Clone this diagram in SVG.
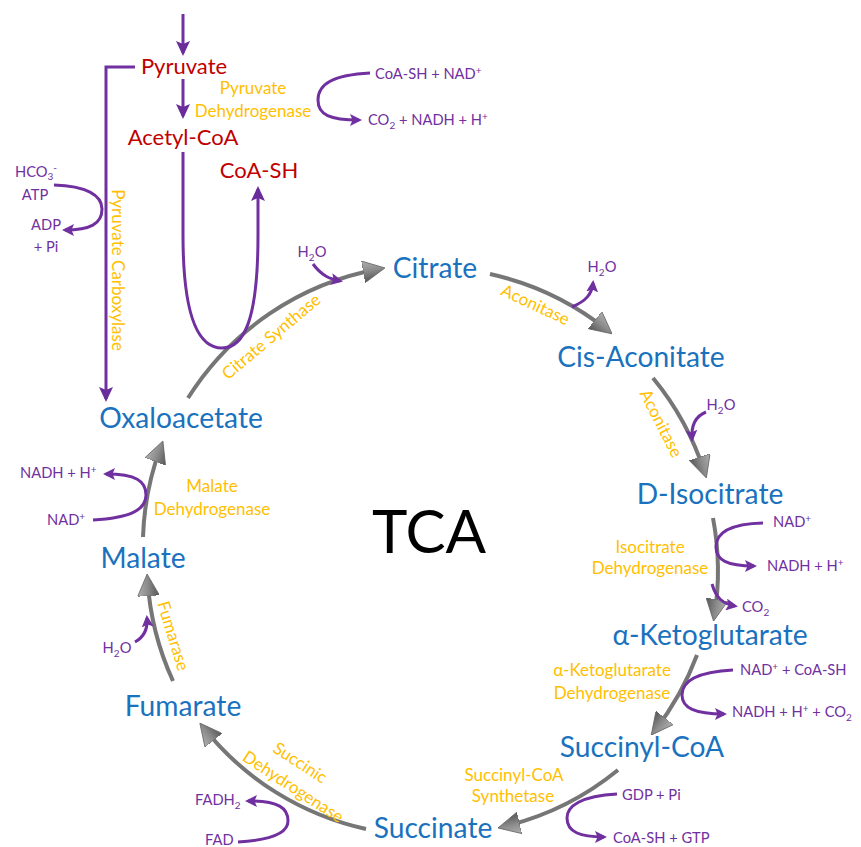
<svg xmlns="http://www.w3.org/2000/svg" width="861" height="847" viewBox="0 0 861 847">
<defs>
<style>
text{font-family:Lato,"Liberation Sans",sans-serif}
.blue{fill:#1a72be;font-size:28.2px;text-anchor:middle}
.red{fill:#c00000;font-size:22px;text-anchor:middle}
.enz{fill:#ffc000;font-size:17px;text-anchor:middle}
.pur{fill:#7030a0;font-size:14.7px}
.mid{text-anchor:middle}
.ss{font-size:10px}
.tca{fill:#000;font-size:60px;text-anchor:middle}
.cyc{fill:none;stroke:#767676;stroke-width:4;marker-end:url(#gh)}
.pa{fill:none;stroke:#7030a0;stroke-width:3;marker-end:url(#ph)}
.pb{fill:none;stroke:#7030a0;stroke-width:3;marker-end:url(#pb)}
</style>
<linearGradient id="gg" x1="0" y1="0" x2="0" y2="1">
<stop offset="0" stop-color="#b0b0b0"/><stop offset="0.5" stop-color="#8a8a8a"/><stop offset="1" stop-color="#555"/>
</linearGradient>
<marker id="gh" viewBox="0 0 22 22" refX="16" refY="11" markerWidth="22" markerHeight="22" markerUnits="userSpaceOnUse" orient="auto">
<path d="M0,0 L22,11 L0,22 z" fill="url(#gg)" stroke="#666" stroke-width="0.8"/>
</marker>
<marker id="ph" viewBox="0 0 12 12" refX="9" refY="6" markerWidth="12" markerHeight="12" markerUnits="userSpaceOnUse" orient="auto">
<path d="M0,0 L12,6 L0,12 L2.5,6 z" fill="#7030a0"/>
</marker>
<marker id="pb" viewBox="0 0 15 14" refX="12" refY="7" markerWidth="15" markerHeight="14" markerUnits="userSpaceOnUse" orient="auto">
<path d="M0,0 L15,7 L0,14 L3,7 z" fill="#6a2c9a"/>
</marker>
</defs>
<rect width="861" height="847" fill="#fff"/>

<g id="connectors">
<!-- TCA cycle -->
<path class="cyc" d="M188,398 A286,286 0 0 1 379,269"/>
<path class="cyc" d="M490,274 A286,286 0 0 1 607.4,330.1"/>
<path class="cyc" d="M653,378 A286,286 0 0 1 704.5,472.2"/>
<path class="cyc" d="M713,518 A286,286 0 0 1 714.5,615.2"/>
<path class="cyc" d="M697,655 A286,286 0 0 1 654.9,730.4"/>
<path class="cyc" d="M618,770 A286,286 0 0 1 503.8,826.6"/>
<path class="cyc" d="M366,829 A286,286 0 0 1 203.6,727.8"/>
<path class="cyc" d="M173,681 A286,286 0 0 1 147.5,580"/>
<path class="cyc" d="M143,537 A286,286 0 0 1 160.8,446.6"/>
<!-- pyruvate entry -->
<path class="pb" d="M183,14 L183,53"/>
<path class="pb" d="M183,79 L183,116"/>
<path class="pb" d="M183,152 L183,235 C183,320 200,348 222,348 C244,348 258,320 258,235 L258,189"/>
<path class="pb" d="M135,67 L106,67 L106,399"/>
<!-- side reactions -->
<path class="pa" d="M54,185 C86,186 102,195 102,209 C102,224 90,230 65,230"/>
<path class="pa" d="M370,73 C333,75 318,84 318,100 C318,115 330,120 359,120"/>
<path class="pa" d="M313,264 C322,276 330,279 340,281"/>
<path class="pa" d="M572,307 C586,301 592,294 593,283"/>
<path class="pa" d="M706,412 C696,416 691,425 692,439"/>
<path class="pa" d="M763,523 C726,524 716,535 716,547 C716,560 727,566 754,566"/>
<path class="pa" d="M712,584 C716,598 723,604 735,606"/>
<path class="pa" d="M733,670 C696,672 682,682 682,695 C682,708 695,714 724,714"/>
<path class="pa" d="M617,794 C581,796 567,806 567,818 C567,832 580,837 604,837"/>
<path class="pa" d="M238,842 C272,840 288,833 288,821 C288,808 279,801 248,801"/>
<path class="pa" d="M93,520 C130,518 146,510 146,495 C146,481 136,474 106,474"/>
<path class="pa" d="M135,642 C144,637 148,630 147,618"/>
</g>

<g id="node-pyruvate"><text class="red" x="184" y="74">Pyruvate</text></g>
<g id="node-acetylcoa"><text class="red" x="183" y="145">Acetyl-CoA</text></g>
<g id="node-coash"><text class="red" x="259" y="178">CoA-SH</text></g>
<g id="node-citrate"><text class="blue" x="435" y="278">Citrate</text></g>
<g id="node-cisaconitate"><text class="blue" x="641" y="367">Cis-Aconitate</text></g>
<g id="node-isocitrate"><text class="blue" x="710" y="504">D-Isocitrate</text></g>
<g id="node-akg"><text class="blue" x="710" y="645">α-Ketoglutarate</text></g>
<g id="node-succinylcoa"><text class="blue" x="642" y="757">Succinyl-CoA</text></g>
<g id="node-succinate"><text class="blue" x="433" y="838">Succinate</text></g>
<g id="node-fumarate"><text class="blue" x="183" y="716">Fumarate</text></g>
<g id="node-malate"><text class="blue" x="143" y="568">Malate</text></g>
<g id="node-oxaloacetate"><text class="blue" x="181" y="428">Oxaloacetate</text></g>
<g id="node-tca"><text class="tca" x="429" y="553">TCA</text></g>

<g id="enzymes">
<text class="enz" x="253" y="94">Pyruvate</text>
<text class="enz" x="253" y="117">Dehydrogenase</text>
<text class="enz" transform="translate(112,270) rotate(90)">Pyruvate Carboxylase</text>
<text class="enz" transform="translate(275,341) rotate(-40)">Citrate Synthase</text>
<text class="enz" transform="translate(533,310) rotate(25)">Aconitase</text>
<text class="enz" transform="translate(656,426) rotate(63)">Aconitase</text>
<text class="enz" x="650" y="553">Isocitrate</text>
<text class="enz" x="650" y="574">Dehydrogenase</text>
<text class="enz" x="612" y="676">α-Ketoglutarate</text>
<text class="enz" x="612" y="699">Dehydrogenase</text>
<text class="enz" x="514" y="781">Succinyl-CoA</text>
<text class="enz" x="513" y="802">Synthetase</text>
<text class="enz" transform="translate(297,767.6) rotate(33)">Succinic</text>
<text class="enz" transform="translate(290,791.6) rotate(33)">Dehydrogenase</text>
<text class="enz" transform="translate(167.7,637.6) rotate(73)">Fumarase</text>
<text class="enz" x="212" y="492">Malate</text>
<text class="enz" x="212" y="515">Dehydrogenase</text>
</g>

<g id="cofactors">
<text class="pur" x="375" y="79">CoA-SH + NAD<tspan class="ss" dy="-5">+</tspan></text>
<text class="pur" x="368" y="125">CO<tspan class="ss" dy="4">2</tspan><tspan dy="-4"> + NADH + H</tspan><tspan class="ss" dy="-5">+</tspan></text>
<text class="pur mid" x="36" y="177">HCO<tspan class="ss" dy="3">3</tspan><tspan class="ss" dy="-9">-</tspan></text>
<text class="pur mid" x="35" y="200">ATP</text>
<text class="pur mid" x="46" y="230">ADP</text>
<text class="pur mid" x="46" y="252">+ Pi</text>
<text class="pur mid" x="312" y="257">H<tspan class="ss" dy="4">2</tspan><tspan dy="-4">O</tspan></text>
<text class="pur mid" x="602" y="272">H<tspan class="ss" dy="4">2</tspan><tspan dy="-4">O</tspan></text>
<text class="pur mid" x="721" y="410">H<tspan class="ss" dy="4">2</tspan><tspan dy="-4">O</tspan></text>
<text class="pur" x="773" y="527">NAD<tspan class="ss" dy="-5">+</tspan></text>
<text class="pur" x="767" y="571">NADH + H<tspan class="ss" dy="-5">+</tspan></text>
<text class="pur" x="742" y="612">CO<tspan class="ss" dy="4">2</tspan></text>
<text class="pur" x="740" y="675">NAD<tspan class="ss" dy="-5">+</tspan><tspan dy="5"> + CoA-SH</tspan></text>
<text class="pur" x="732" y="717">NADH + H<tspan class="ss" dy="-5">+</tspan><tspan dy="5"> + CO</tspan><tspan class="ss" dy="4">2</tspan></text>
<text class="pur" x="622" y="800">GDP + Pi</text>
<text class="pur" x="613" y="843">CoA-SH + GTP</text>
<text class="pur" x="195" y="805">FADH<tspan class="ss" dy="4">2</tspan></text>
<text class="pur" x="205" y="845">FAD</text>
<text class="pur" x="20" y="478">NADH + H<tspan class="ss" dy="-5">+</tspan></text>
<text class="pur" x="47" y="525">NAD<tspan class="ss" dy="-5">+</tspan></text>
<text class="pur mid" x="117" y="653">H<tspan class="ss" dy="4">2</tspan><tspan dy="-4">O</tspan></text>
</g>
</svg>
